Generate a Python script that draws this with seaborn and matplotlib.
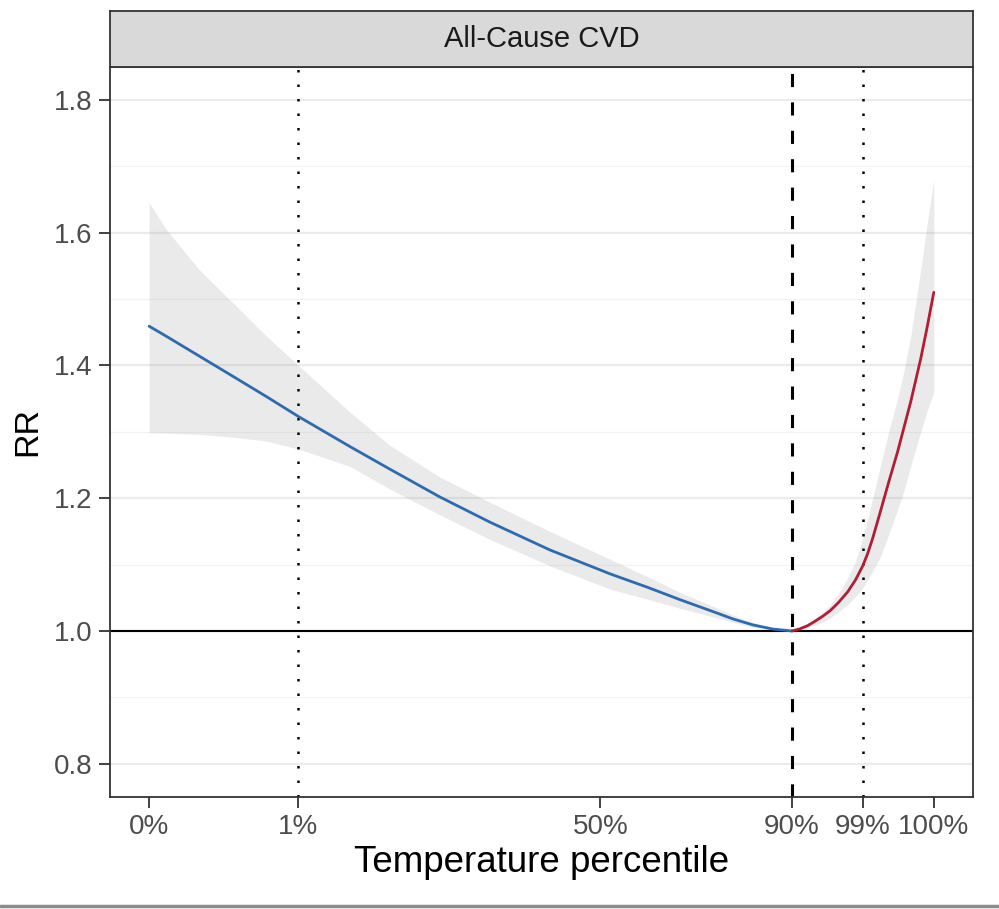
import numpy as np
import pandas as pd
import matplotlib
matplotlib.use("Agg")
import matplotlib.pyplot as plt
import seaborn as sns
from matplotlib.lines import Line2D

# exposure-response curve (temperature in degC)
temp_cold = [-5.0, -4.22, -2.7, -1.18, 0.38, 1.85, 4.2, 6.03, 8.33, 10.63, 13.39, 16.15,
             17.85, 19.37, 20.89, 21.8, 22.72, 23.6, 24.5]
rr_cold = [1.459, 1.444, 1.414, 1.384, 1.353, 1.323, 1.278, 1.244, 1.202, 1.164, 1.122, 1.086,
           1.066, 1.047, 1.029, 1.018, 1.009, 1.003, 1.0]
low_cold = [1.299, 1.298, 1.296, 1.292, 1.286, 1.274, 1.248, 1.214, 1.175, 1.138, 1.098, 1.063,
            1.048, 1.034, 1.021, 1.013, 1.006, 1.002, 1.0]
up_cold = [1.645, 1.605, 1.544, 1.495, 1.444, 1.400, 1.330, 1.280, 1.232, 1.194, 1.150, 1.108,
           1.082, 1.058, 1.037, 1.024, 1.013, 1.005, 1.0]

temp_hot = [24.5, 24.84, 25.21, 25.57, 25.94, 26.26, 26.63, 27.05, 27.41, 27.74, 27.97, 28.2,
            28.56, 28.93, 29.34, 29.62, 29.94, 30.4, 30.68, 31.0]
rr_hot = [1.0, 1.003, 1.008, 1.015, 1.023, 1.031, 1.043, 1.059, 1.077, 1.098, 1.117, 1.14,
          1.181, 1.224, 1.27, 1.305, 1.345, 1.41, 1.455, 1.51]
low_hot = [1.0, 1.002, 1.005, 1.009, 1.014, 1.02, 1.029, 1.04, 1.052, 1.065, 1.077, 1.09,
           1.113, 1.145, 1.183, 1.21, 1.248, 1.30, 1.33, 1.36]
up_hot = [1.0, 1.004, 1.011, 1.02, 1.03, 1.04, 1.056, 1.08, 1.105, 1.14, 1.17, 1.20,
          1.25, 1.30, 1.35, 1.39, 1.444, 1.544, 1.61, 1.68]

# percentile positions on the temperature axis
pct_temp = [-5.0, 1.85, 15.7, 24.5, 27.74, 31.0]
pct_labels = ["0%", "1%", "50%", "90%", "99%", "100%"]
mmt = 24.5          # 90th percentile (minimum mortality temperature)
extremes = [1.85, 27.74]

cold = pd.DataFrame({"temp": temp_cold, "rr": rr_cold, "lo": low_cold, "hi": up_cold})
hot = pd.DataFrame({"temp": temp_hot, "rr": rr_hot, "lo": low_hot, "hi": up_hot})

sns.set_theme(style="white")
plt.rcParams["font.family"] = ["Liberation Sans", "DejaVu Sans"]

fig = plt.figure(figsize=(9.99, 9.09), dpi=100)
ax = fig.add_axes([0.110, 0.1232, 0.864, 0.8036])

# gridlines (horizontal only)
for y in np.arange(0.8, 1.81, 0.2):
    ax.axhline(y, color="#EBEBEB", lw=1.6, zorder=0)
for y in np.arange(0.9, 1.71, 0.2):
    ax.axhline(y, color="#F2F2F2", lw=0.9, zorder=0)

ax.fill_between(cold["temp"], cold["lo"], cold["hi"], color="0.6", alpha=0.2, lw=0, zorder=1)
ax.fill_between(hot["temp"], hot["lo"], hot["hi"], color="0.6", alpha=0.2, lw=0, zorder=1)

ax.axhline(1.0, color="black", lw=1.5, zorder=2)
for t in extremes:
    ax.axvline(t, color="black", lw=1.8, ls=(0, (1, 4.8)), zorder=2)
ax.axvline(mmt, color="black", lw=2.2, ls=(0, (4.3, 5)), zorder=2)

sns.lineplot(data=cold, x="temp", y="rr", color="#2D6BB0", lw=2.0, ax=ax, zorder=3)
sns.lineplot(data=hot, x="temp", y="rr", color="#B01E35", lw=2.0, ax=ax, zorder=3)

ax.set_xlim(-6.8, 32.8)
ax.set_ylim(0.75, 1.85)
ax.set_xticks(pct_temp)
ax.set_xticklabels(pct_labels)
ax.set_yticks([0.8, 1.0, 1.2, 1.4, 1.6, 1.8])
ax.set_yticklabels(["0.8", "1.0", "1.2", "1.4", "1.6", "1.8"])
ax.tick_params(axis="both", which="major", length=8, width=1.3, color="#333333",
               labelsize=20, labelcolor="#4D4D4D", pad=4.5, direction="out",
               bottom=True, left=True)
ax.set_xlabel("Temperature percentile", fontsize=26.5, color="black", labelpad=3)
ax.set_ylabel("RR", fontsize=24.5, color="black", labelpad=8)
for s in ax.spines.values():
    s.set_color("#333333")
    s.set_linewidth(1.3)

# facet strip
strip = fig.add_axes([0.110, 0.9268, 0.864, 0.0616])
strip.set_facecolor("#D9D9D9")
strip.set_xticks([])
strip.set_yticks([])
for s in strip.spines.values():
    s.set_color("#333333")
    s.set_linewidth(1.3)
strip.text(0.5, 0.5, "All-Cause CVD", ha="center", va="center", fontsize=21,
           color="#1A1A1A", transform=strip.transAxes)

# grey edge at the bottom of the screenshot
fig.add_artist(Line2D([0, 1], [0.003, 0.003], color="#8C8C8C", lw=2.5, transform=fig.transFigure))

fig.savefig("out.png", dpi=100)
